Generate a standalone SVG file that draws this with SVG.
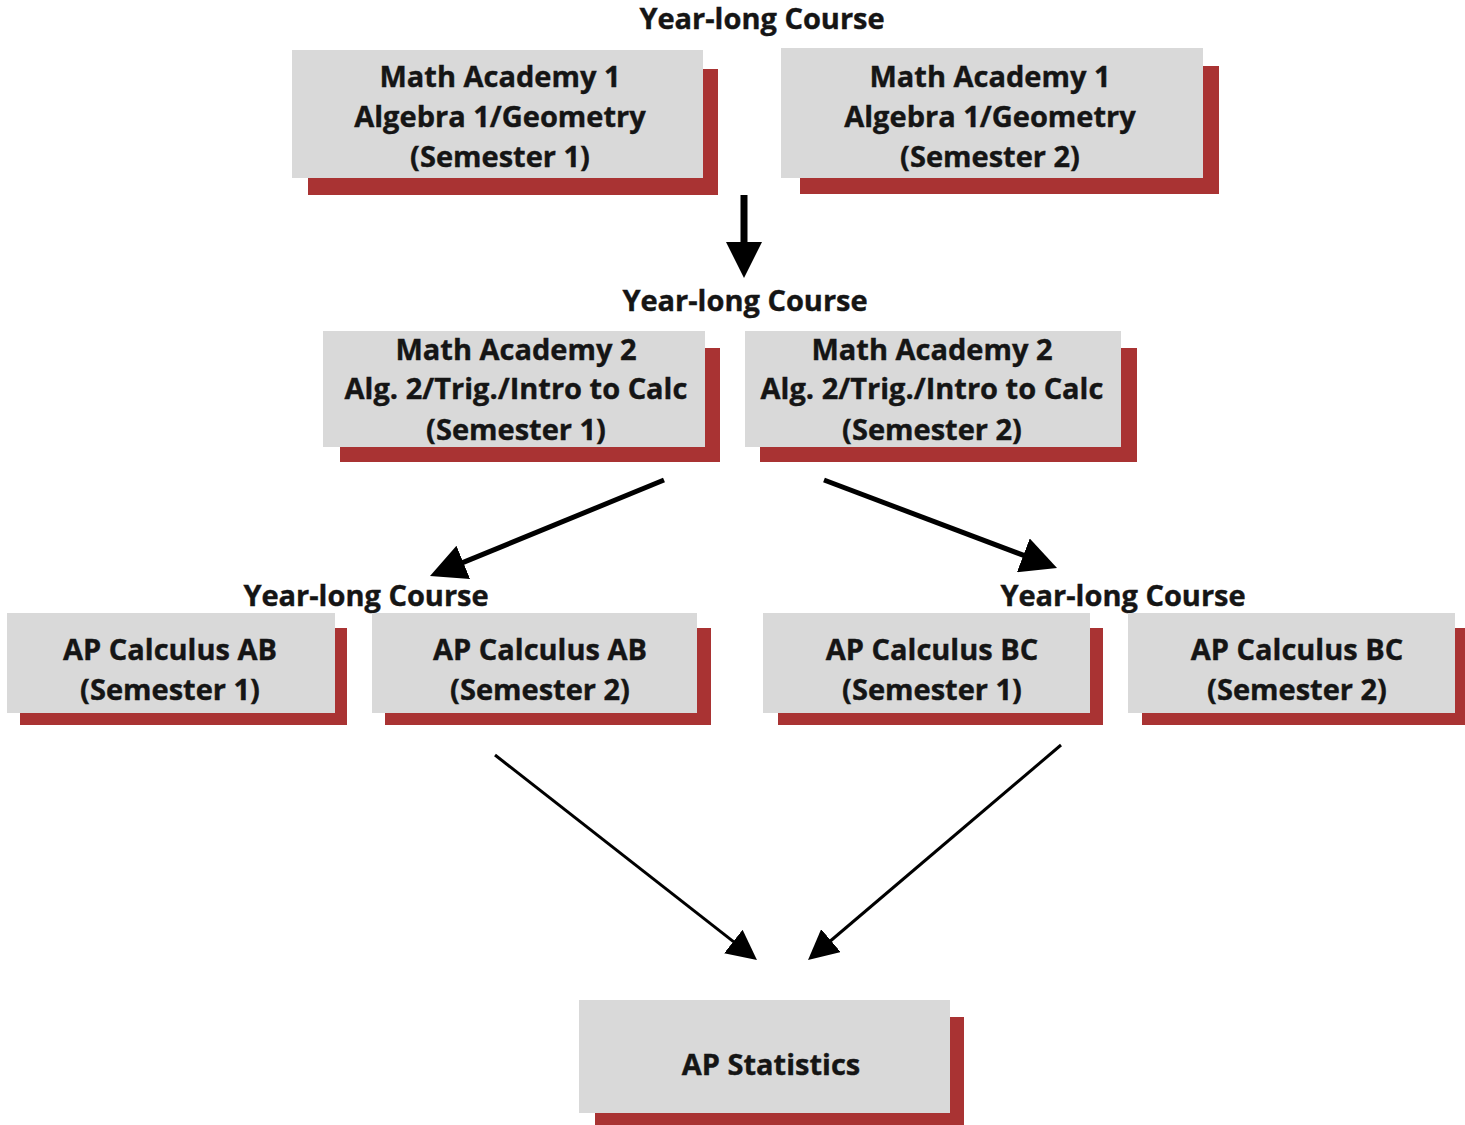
<svg xmlns="http://www.w3.org/2000/svg" width="1465" height="1125" viewBox="0 0 1465 1125">
<style>
.box{fill:#d9d9d9}
.sh{fill:#a93333}
.t{font-family:"Open Sans","Liberation Sans",sans-serif;font-weight:bold;font-size:29px;fill:#151515;stroke:#151515;stroke-width:0.4;text-anchor:middle}
.thick{stroke:#000;stroke-width:5;fill:none}
.thin{stroke:#000;stroke-width:3;fill:none}
</style>
<defs>
<marker id="hb" markerUnits="userSpaceOnUse" viewBox="0 0 36 36" markerWidth="36" markerHeight="36" refX="4" refY="18" orient="auto"><path d="M0,0 L36,18 L0,36 z" fill="#000"/></marker>
<marker id="hs" markerUnits="userSpaceOnUse" viewBox="0 0 30 30" markerWidth="30" markerHeight="30" refX="3" refY="15" orient="auto"><path d="M0,0 L30,15 L0,30 z" fill="#000"/></marker>
</defs>
<rect width="1465" height="1125" fill="#fff"/>
<text class="t" x="762" y="29">Year-long Course</text>
<text class="t" x="745" y="311">Year-long Course</text>
<text class="t" x="366" y="606">Year-long Course</text>
<text class="t" x="1123" y="606">Year-long Course</text>

<g id="ma1s1">
<rect class="sh" x="308" y="69" width="410" height="126"/>
<rect class="box" x="292" y="50" width="411" height="128"/>
<text class="t" x="500" y="87">Math Academy 1</text>
<text class="t" x="500" y="127">Algebra 1/Geometry</text>
<text class="t" x="500" y="167">(Semester 1)</text>
</g>
<g id="ma1s2">
<rect class="sh" x="800" y="66" width="419" height="128"/>
<rect class="box" x="781" y="48" width="422" height="130"/>
<text class="t" x="990" y="87">Math Academy 1</text>
<text class="t" x="990" y="127">Algebra 1/Geometry</text>
<text class="t" x="990" y="167">(Semester 2)</text>
</g>
<g id="ma2s1">
<rect class="sh" x="340" y="348" width="380" height="114"/>
<rect class="box" x="323" y="331" width="382" height="116"/>
<text class="t" x="516" y="360">Math Academy 2</text>
<text class="t" x="516" y="399">Alg. 2/Trig./Intro to Calc</text>
<text class="t" x="516" y="440">(Semester 1)</text>
</g>
<g id="ma2s2">
<rect class="sh" x="760" y="348" width="377" height="114"/>
<rect class="box" x="745" y="331" width="376" height="116"/>
<text class="t" x="932" y="360">Math Academy 2</text>
<text class="t" x="932" y="399">Alg. 2/Trig./Intro to Calc</text>
<text class="t" x="932" y="440">(Semester 2)</text>
</g>
<g id="abs1">
<rect class="sh" x="20" y="628" width="327" height="97"/>
<rect class="box" x="7" y="613" width="328" height="100"/>
<text class="t" x="170" y="660">AP Calculus AB</text>
<text class="t" x="170" y="700">(Semester 1)</text>
</g>
<g id="abs2">
<rect class="sh" x="385" y="628" width="326" height="97"/>
<rect class="box" x="372" y="613" width="325" height="100"/>
<text class="t" x="540" y="660">AP Calculus AB</text>
<text class="t" x="540" y="700">(Semester 2)</text>
</g>
<g id="bcs1">
<rect class="sh" x="778" y="628" width="325" height="97"/>
<rect class="box" x="763" y="613" width="327" height="100"/>
<text class="t" x="932" y="660">AP Calculus BC</text>
<text class="t" x="932" y="700">(Semester 1)</text>
</g>
<g id="bcs2">
<rect class="sh" x="1142" y="628" width="323" height="97"/>
<rect class="box" x="1128" y="613" width="327" height="100"/>
<text class="t" x="1297" y="660">AP Calculus BC</text>
<text class="t" x="1297" y="700">(Semester 2)</text>
</g>
<g id="stats">
<rect class="sh" x="595" y="1017" width="369" height="108"/>
<rect class="box" x="579" y="1000" width="371" height="113"/>
<text class="t" x="771" y="1075">AP Statistics</text>
</g>

<g id="connectors">
<line x1="744" y1="195" x2="744" y2="246" stroke="#000" stroke-width="7" marker-end="url(#hb)"/>
<line class="thick" x1="664" y1="480" x2="459.6" y2="563.9" marker-end="url(#hb)"/>
<line class="thick" x1="824" y1="480" x2="1027.1" y2="556.7" marker-end="url(#hb)"/>
<line class="thin" x1="495" y1="755" x2="735.7" y2="943.4" marker-end="url(#hs)"/>
<line class="thin" x1="1061" y1="745" x2="828.6" y2="942.5" marker-end="url(#hs)"/>
</g>
</svg>
